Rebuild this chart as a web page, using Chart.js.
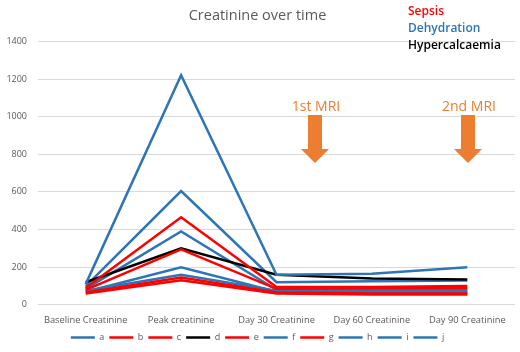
<!DOCTYPE html>
<html>
<head>
<meta charset="utf-8">
<script src="https://cdn.jsdelivr.net/npm/chart.js@4"></script>
<style>
  html, body { margin: 0; padding: 0; background: #fff; }
  #wrap { width: 520px; height: 352px; }
</style>
</head>
<body>
<div id="wrap"><canvas id="myChart" width="520" height="352"></canvas></div>
<script>
// categories along the bottom
let times = ["Baseline Creatinine", "Peak creatinine", "Day 30 Creatinine", "Day 60 Creatinine", "Day 90 Creatinine"]

// one array per patient
let a = [110, 1220, 160, 165, 200]
let b = [90, 465, 95, 95, 100]
let c = [80, 295, 85, 88, 90]
let d = [120, 300, 160, 140, 135]
let e = [65, 145, 65, 60, 60]
let f = [100, 605, 120, 125, 130]
let g = [60, 130, 60, 55, 55]
let h = [85, 390, 80, 80, 80]
let i = [70, 200, 70, 70, 70]
let j = [75, 160, 75, 70, 65]

let names = ["a", "b", "c", "d", "e", "f", "g", "h", "i", "j"]
let values = [a, b, c, d, e, f, g, h, i, j]
let causes = ["dehydration", "sepsis", "sepsis", "hypercalcaemia", "sepsis", "dehydration", "sepsis", "dehydration", "dehydration", "dehydration"]

let yTicks = [0, 200, 400, 600, 800, 1000, 1200, 1400]

let colours = { sepsis: "#ff0000", dehydration: "#2e75b6", hypercalcaemia: "#000000" }

let datasets = []
for (let k = 0; k < names.length; k++) {
    let col = colours[causes[k]]
    datasets.push({
        label: names[k],
        data: values[k],
        borderColor: col,
        backgroundColor: col,
        borderWidth: 2.5,
        pointRadius: 0,
        pointStyle: "line",
        tension: 0
    })
}

// text notes and arrows on top of the plot
const notes = {
    id: "notes",
    afterDraw(chart) {
        let ctx = chart.ctx
        ctx.save()
        ctx.textBaseline = "middle"
        ctx.textAlign = "left"
        ctx.font = "600 12px 'Open Sans', sans-serif"
        ctx.fillStyle = "#ff0000"
        ctx.fillText("Sepsis", 408, 12)
        ctx.fillStyle = "#2e75b6"
        ctx.fillText("Dehydration", 408, 29)
        ctx.fillStyle = "#000000"
        ctx.fillText("Hypercalcaemia", 408, 46)

        ctx.fillStyle = "#ed7d31"
        ctx.textAlign = "center"
        ctx.font = "14px 'Open Sans', sans-serif"
        ctx.fillText("1st MRI", 316, 107)
        ctx.fillText("2nd MRI", 469, 107)

        function arrow(cx) {
            ctx.beginPath()
            ctx.moveTo(cx - 7, 115)
            ctx.lineTo(cx + 7, 115)
            ctx.lineTo(cx + 7, 149)
            ctx.lineTo(cx + 14, 149)
            ctx.lineTo(cx, 163)
            ctx.lineTo(cx - 14, 149)
            ctx.lineTo(cx - 7, 149)
            ctx.closePath()
            ctx.fill()
        }
        arrow(315)
        arrow(468)
        ctx.restore()
    }
}

const ctx = document.getElementById("myChart")
new Chart(ctx, {
    type: "line",
    data: { labels: times, datasets: datasets },
    options: {
        responsive: false,
        animation: false,
        layout: { padding: { top: 7, right: 5, left: 0, bottom: 0 } },
        plugins: {
            title: {
                display: true,
                text: "Creatinine over time",
                color: "#595959",
                font: { family: "'Open Sans', sans-serif", size: 14.5, weight: "normal" },
                padding: { top: 0, bottom: 17 }
            },
            legend: {
                position: "bottom",
                labels: {
                    usePointStyle: true,
                    pointStyle: "line",
                    pointStyleWidth: 24,
                    padding: 5,
                    color: "#595959",
                    font: { family: "'Open Sans', sans-serif", size: 9 }
                }
            },
            tooltip: { enabled: false }
        },
        scales: {
            x: {
                offset: true,
                grid: { display: false },
                border: { display: false },
                ticks: {
                    color: "#595959",
                    padding: 2,
                    font: { family: "'Open Sans', sans-serif", size: 9.3 },
                    maxRotation: 0
                }
            },
            y: {
                min: 0,
                max: 1400,
                afterBuildTicks(scale) { scale.ticks = yTicks.map(v => ({ value: v })) },
                afterFit(scale) { scale.width = 38 },
                grid: { color: "#d9d9d9", drawTicks: false },
                border: { display: false },
                ticks: {
                    color: "#595959",
                    padding: 11,
                    font: { family: "'Open Sans', sans-serif", size: 9 },
                    callback: v => String(v)
                }
            }
        }
    },
    plugins: [notes]
})
</script>
</body>
</html>
